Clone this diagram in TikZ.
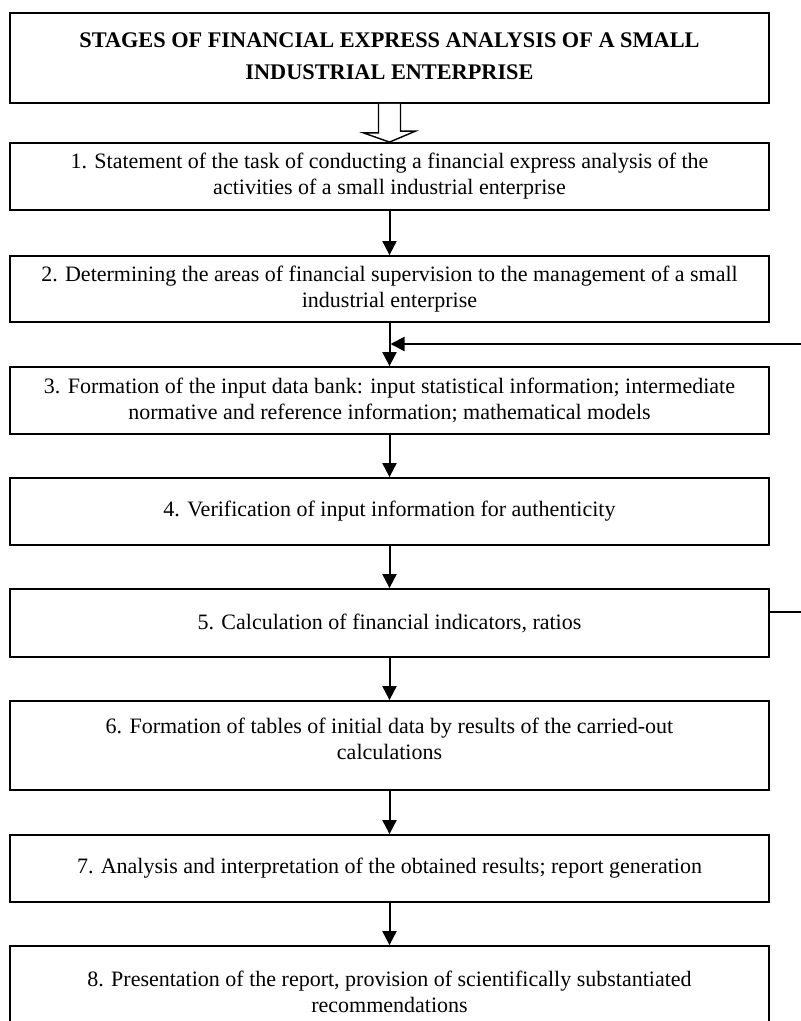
\documentclass[tikz,border=0pt]{standalone}
\usepackage{fontspec}
\setmainfont{Liberation Serif}
\usepackage{tikz}
\usetikzlibrary{arrows.meta, positioning, calc}

\begin{document}
\begin{tikzpicture}[x=1pt, y=1pt,
  stagebox/.style={draw, line width=1.8pt, minimum width=759pt, align=center,
    inner sep=0pt, font=\fontsize{22}{26}\selectfont},
  titlebox/.style={stagebox, font=\bfseries\fontsize{22.3}{32}\selectfont},
  flow/.style={line width=2pt, -{Triangle[length=14pt,width=14pt]}},
  hollow/.style={line width=1.4pt, fill=white, line join=miter}]
\useasboundingbox (0,0) rectangle (801,-1021);
\node[titlebox, minimum height=90pt] (title) at (389.5,-58) {STAGES OF FINANCIAL EXPRESS ANALYSIS OF A SMALL\\INDUSTRIAL ENTERPRISE\\[-29pt]};
\node[stagebox, minimum height=67pt] (s1) at (389.5,-176.5) {1. Statement of the task of conducting a financial express analysis of the\\activities of a small industrial enterprise};
\node[stagebox, minimum height=66pt] (s2) at (389.5,-289) {2. Determining the areas of financial supervision to the management of a small\\industrial enterprise};
\node[stagebox, minimum height=67pt] (s3) at (389.5,-400.5) {3. Formation of the input data bank: input statistical information; intermediate\\normative and reference information; mathematical models};
\node[stagebox, minimum height=67pt] (s4) at (389.5,-511.5) {4. Verification of input information for authenticity};
\node[stagebox, minimum height=68pt] (s5) at (389.5,-623) {5. Calculation of financial indicators, ratios};
\node[stagebox, minimum height=89pt] (s6) at (389.5,-745.5) {6. Formation of tables of initial data by results of the carried-out\\calculations\\[-12pt]};
\node[stagebox, minimum height=67pt] (s7) at (389.5,-868.5) {7. Analysis and interpretation of the obtained results; report generation};
\node[stagebox, minimum height=92pt] (s8) at (389.5,-992) {8. Presentation of the report, provision of scientifically substantiated\\recommendations};
% hollow arrow under the title
\draw[hollow] ([xshift=-11pt]title.south) -- ++(0,-29) -- ++(-15,0) -- (s1.north)
  -- ++(26,11) -- ++(-15,0) -- ([xshift=11pt]title.south);
\foreach \a/\b in {s1/s2, s2/s3, s3/s4, s4/s5, s5/s6, s6/s7, s7/s8} {
  \draw[flow] (\a.south) -- (\b.north);
}
% feedback from stage 5 back to stage 3
\coordinate (fbout) at (805,-612);
\coordinate (fbin) at (805,-344);
\draw[line width=2pt] (fbout -| s5.east) -- (fbout) -- (fbin);
\draw[flow] (fbin) -- ([xshift=1pt]fbin -| s2.south);
\end{tikzpicture}
\end{document}
